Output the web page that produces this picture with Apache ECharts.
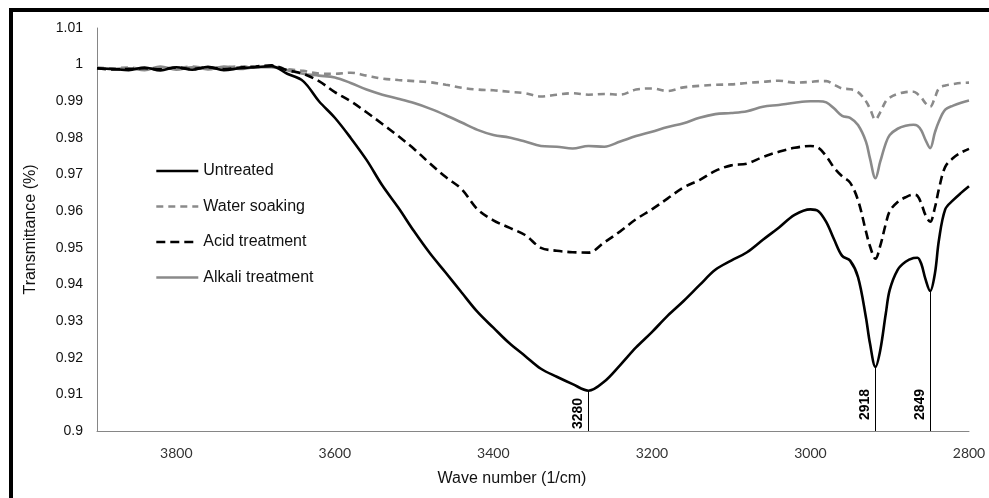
<!DOCTYPE html>
<html>
<head>
<meta charset="utf-8">
<script src="https://cdn.jsdelivr.net/npm/echarts@6/dist/echarts.min.js"></script>
<style>
html,body{margin:0;padding:0;background:#fff;}
#chart{width:989px;height:498px;}
</style>
</head>
<body>
<div id="chart"></div>
<script>
// Wave numbers (1/cm)
const wavenumbers = [3900,3880,3860,3840,3820,3800,3780,3760,3740,3720,3700,3680,3660,3640,3620,3600,3580,3560,3540,3520,3500,3480,3460,3440,3420,3400,3380,3360,3340,3320,3300,3280,3260,3240,3220,3200,3180,3160,3140,3120,3100,3080,3060,3040,3020,3000,2990,2980,2970,2960,2950,2940,2930,2925,2918,2912,2905,2900,2890,2880,2870,2865,2860,2855,2849,2843,2838,2830,2820,2810,2800];

const untreated = [0.9990,0.9988,0.9985,0.9992,0.9984,0.9993,0.9986,0.9994,0.9985,0.9990,0.9993,0.9996,0.9975,0.9955,0.9900,0.9855,0.9800,0.9740,0.9670,0.9610,0.9545,0.9485,0.9432,0.9378,0.9325,0.9282,0.9240,0.9205,0.9170,0.9148,0.9128,0.9110,0.9135,0.9180,0.9228,0.9270,0.9315,0.9355,0.9398,0.9440,0.9465,0.9488,0.9522,0.9555,0.9590,0.9605,0.9600,0.9570,0.9522,0.9478,0.9465,0.9420,0.9310,0.9240,0.9175,0.9220,0.9320,0.9385,0.9440,0.9462,0.9472,0.9473,0.9455,0.9415,0.9382,0.9430,0.9520,0.9605,0.9630,0.9650,0.9668];

const waterSoaking = [0.9992,0.9990,0.9992,0.9988,0.9993,0.9990,0.9995,0.9990,0.9993,0.9995,0.9993,0.9995,0.9988,0.9983,0.9976,0.9975,0.9978,0.9970,0.9962,0.9958,0.9955,0.9952,0.9945,0.9937,0.9932,0.9930,0.9926,0.9922,0.9913,0.9918,0.9922,0.9918,0.9920,0.9918,0.9932,0.9935,0.9928,0.9938,0.9942,0.9945,0.9946,0.9950,0.9953,0.9956,0.9951,0.9953,0.9955,0.9955,0.9945,0.9935,0.9933,0.9925,0.9900,0.9880,0.9850,0.9870,0.9900,0.9910,0.9920,0.9925,0.9926,0.9920,0.9910,0.9895,0.9885,0.9910,0.9935,0.9943,0.9947,0.9950,0.9951];

const acidTreatment = [0.9990,0.9987,0.9988,0.9990,0.9987,0.9992,0.9988,0.9993,0.9988,0.9992,0.9995,0.9998,0.9985,0.9975,0.9955,0.9925,0.9900,0.9870,0.9838,0.9805,0.9770,0.9730,0.9693,0.9660,0.9605,0.9575,0.9555,0.9535,0.9500,0.9492,0.9488,0.9487,0.9515,0.9545,0.9578,0.9605,0.9635,0.9665,0.9685,0.9710,0.9725,0.9730,0.9748,0.9762,0.9773,0.9778,0.9773,0.9750,0.9718,0.9695,0.9678,0.9630,0.9545,0.9505,0.9470,0.9505,0.9565,0.9600,0.9625,0.9638,0.9645,0.9642,0.9620,0.9590,0.9571,0.9610,0.9660,0.9721,0.9745,0.9760,0.9770];

const alkaliTreatment = [0.9990,0.9988,0.9990,0.9985,0.9995,0.9986,0.9993,0.9987,0.9995,0.9988,0.9993,0.9993,0.9985,0.9975,0.9970,0.9965,0.9950,0.9932,0.9918,0.9907,0.9895,0.9880,0.9862,0.9842,0.9822,0.9808,0.9801,0.9790,0.9778,0.9776,0.9771,0.9778,0.9776,0.9790,0.9805,0.9817,0.9830,0.9840,0.9855,0.9865,0.9868,0.9873,0.9885,0.9890,0.9896,0.9900,0.9900,0.9897,0.9880,0.9860,0.9855,0.9835,0.9790,0.9745,0.9690,0.9735,0.9785,0.9808,0.9825,0.9833,0.9836,0.9833,0.9820,0.9795,0.9772,0.9815,0.9845,0.9877,0.9888,0.9896,0.9902];

const seriesNames = ['Untreated','Water soaking','Acid treatment','Alkali treatment'];
const peaks = [3280, 2918, 2849];

const xTicks = {min: 2800, max: 3900, interval: 200};
const yTicks = {min: 0.9, max: 1.01, interval: 0.01};

function pairs(vals){ return wavenumbers.map((w,i)=>[w, vals[i]]); }
function valueAt(vals, w){ return vals[wavenumbers.indexOf(w)]; }

const GRAY = '#8a8a8a';
const chart = echarts.init(document.getElementById('chart'), null, {renderer:'canvas'});

const peakLines = peaks.map((p, i) => [
  {coord:[p, yTicks.min], label:{show:true, formatter: String(p), position:'insideStartTop',
     distance: i === 0 ? [2, 3] : [11, 3]}},
  {coord:[p, valueAt(untreated, p)]}
]);

const option = {
  animation: false,
  backgroundColor: '#fff',
  grid: {left: 97, right: 20, top: 28, bottom: 67, containLabel: false},
  legend: {
    orient: 'vertical', left: 150, top: 158, itemWidth: 42, itemHeight: 16, itemGap: 19.5,
    itemStyle: {opacity: 0},
    lineStyle: {width: 2.6},
    textStyle: {fontFamily: 'Liberation Sans, Arial, sans-serif', fontSize: 16, color: '#111'},
    data: seriesNames
  },
  xAxis: {
    type: 'value', inverse: true, min: xTicks.min, max: xTicks.max, interval: xTicks.interval,
    name: 'Wave number (1/cm)', nameLocation: 'middle', nameGap: 40,
    nameTextStyle: {fontFamily: 'Liberation Sans, Arial, sans-serif', fontSize: 16, color: '#111', padding: [0, 42, 0, 0]},
    axisLine: {show: true, onZero: false, lineStyle: {color: '#868686', width: 1}},
    axisTick: {show: false},
    splitLine: {show: false},
    axisLabel: {fontFamily: 'Lato, sans-serif', fontSize: 14, color: '#333', margin: 15,
      showMaxLabel: false, formatter: v => (v === xTicks.max ? '' : String(v))}
  },
  yAxis: {
    type: 'value', min: yTicks.min, max: yTicks.max, interval: yTicks.interval,
    name: 'Transmittance (%)', nameLocation: 'middle', nameGap: 58, nameRotate: 90,
    nameTextStyle: {fontFamily: 'Liberation Sans, Arial, sans-serif', fontSize: 16, color: '#111'},
    axisLine: {show: true, lineStyle: {color: '#868686', width: 1}},
    axisTick: {show: false},
    splitLine: {show: false},
    axisLabel: {fontFamily: 'Liberation Sans, Arial, sans-serif', fontSize: 14, color: '#111', margin: 14,
      formatter: v => String(parseFloat(v.toFixed(2)))}
  },
  series: [
    {name: seriesNames[0], type: 'line', data: pairs(untreated), showSymbol: false, symbol: 'none', smooth: 0.35,
     lineStyle: {color: '#000', width: 2.6, type: 'solid'}, itemStyle: {color: '#000'}, z: 5,
     markLine: {silent: true, symbol: 'none', animation: false,
       lineStyle: {color: '#000', width: 1, type: 'solid'},
       label: {color: '#000', fontFamily: 'Liberation Sans, Arial, sans-serif', fontWeight: 'bold', fontSize: 14},
       emphasis: {disabled: true},
       data: peakLines}},
    {name: seriesNames[1], type: 'line', data: pairs(waterSoaking), showSymbol: false, symbol: 'none', smooth: 0.35,
     lineStyle: {color: GRAY, width: 2.6, type: [7, 5]}, itemStyle: {color: GRAY}, z: 2},
    {name: seriesNames[2], type: 'line', data: pairs(acidTreatment), showSymbol: false, symbol: 'none', smooth: 0.35,
     lineStyle: {color: '#000', width: 2.6, type: [9, 5]}, itemStyle: {color: '#000'}, z: 4},
    {name: seriesNames[3], type: 'line', data: pairs(alkaliTreatment), showSymbol: false, symbol: 'none', smooth: 0.35,
     lineStyle: {color: GRAY, width: 2.6, type: 'solid'}, itemStyle: {color: GRAY}, z: 3}
  ],
  graphic: [
    {type: 'rect', left: 9, top: 8, shape: {width: 980, height: 4}, style: {fill: '#000'}, silent: true},
    {type: 'rect', left: 9, top: 8, shape: {width: 4, height: 490}, style: {fill: '#000'}, silent: true}
  ]
};
chart.setOption(option);
</script>
</body>
</html>
